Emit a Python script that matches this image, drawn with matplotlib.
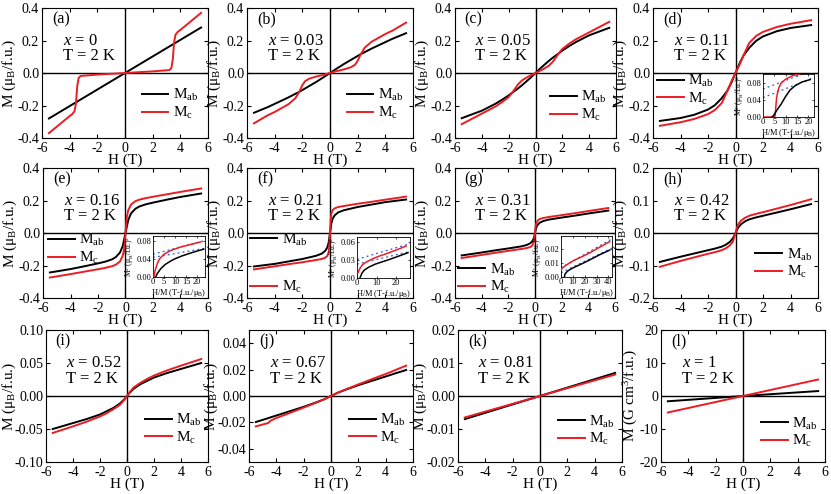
import matplotlib
matplotlib.use('Agg')
import matplotlib.pyplot as plt

plt.rcParams['font.family'] = 'Liberation Serif'
plt.rcParams['mathtext.fontset'] = 'custom'
plt.rcParams['mathtext.rm'] = 'Liberation Serif'
plt.rcParams['mathtext.it'] = 'Liberation Serif:italic'
plt.rcParams['mathtext.bf'] = 'Liberation Serif:bold'
plt.rcParams['axes.unicode_minus'] = False

# ---- data: M(H) at T = 2 K ----
# (a) x = 0
h_a_ab = [-5.5, 0, 5.5]
m_a_ab = [-0.28, 0, 0.28]
h_a_c = [-5.5, -5.0, -4.5, -4.0, -3.8, -3.65, -3.55, -3.45, -3.35, -3.2, -2.0, 0.0,
         2.0, 3.2, 3.35, 3.45, 3.55, 3.65, 3.8, 4.0, 4.5, 5.0, 5.5]
m_a_c = [-0.37, -0.335, -0.30, -0.265, -0.252, -0.235, -0.19, -0.08, -0.03, -0.018, -0.01, 0.0,
         0.01, 0.018, 0.03, 0.08, 0.19, 0.235, 0.252, 0.265, 0.30, 0.335, 0.37]

# (b) x = 0.03
h_b = [-5.5, -4.5, -4, -3, -2.5, -2.2, -2, -1.8, -1.5, -1, -0.5, 0,
       0.5, 1, 1.5, 1.8, 2, 2.2, 2.5, 3, 4, 4.5, 5.5]
mab_b = [-0.245, -0.21, -0.19, -0.15, -0.128, -0.115, -0.105, -0.095, -0.08, -0.055, -0.028, 0,
         0.028, 0.055, 0.08, 0.095, 0.105, 0.115, 0.128, 0.15, 0.19, 0.21, 0.245]
mc_b = [-0.31, -0.26, -0.24, -0.192, -0.155, -0.112, -0.075, -0.05, -0.035, -0.022, -0.012, 0,
        0.012, 0.022, 0.035, 0.05, 0.075, 0.112, 0.155, 0.192, 0.24, 0.26, 0.31]

# (c) x = 0.05
h_c = [-5.5, -4, -3, -2.5, -2, -1.8, -1.6, -1.3, -1, -0.6, -0.3, 0,
       0.3, 0.6, 1, 1.3, 1.6, 1.8, 2, 2.5, 3, 4, 5.5]
mab_c = [-0.278, -0.232, -0.19, -0.165, -0.138, -0.125, -0.113, -0.095, -0.075, -0.046, -0.024, 0,
         0.024, 0.046, 0.075, 0.095, 0.113, 0.125, 0.138, 0.165, 0.19, 0.232, 0.278]
mc_c = [-0.315, -0.25, -0.207, -0.18, -0.148, -0.128, -0.105, -0.07, -0.045, -0.025, -0.012, 0,
        0.012, 0.025, 0.045, 0.07, 0.105, 0.128, 0.148, 0.18, 0.207, 0.25, 0.315]

# (d) x = 0.11
h_d = [-5.5, -4, -3, -2, -1.5, -1, -0.6, -0.3, 0, 0.3, 0.6, 1, 1.5, 2, 3, 4, 5.5]
mab_d = [-0.295, -0.277, -0.257, -0.225, -0.198, -0.155, -0.11, -0.06, 0,
         0.06, 0.11, 0.155, 0.198, 0.225, 0.257, 0.277, 0.295]
mc_d = [-0.325, -0.303, -0.283, -0.253, -0.228, -0.185, -0.112, -0.052, 0,
        0.052, 0.112, 0.185, 0.228, 0.253, 0.283, 0.303, 0.325]

# (e) x = 0.16
h_e = [-5.5, -4, -3, -2, -1.5, -1, -0.7, -0.4, -0.2, -0.1, -0.05, 0,
       0.05, 0.1, 0.2, 0.4, 0.7, 1, 1.5, 2, 3, 4, 5.5]
mab_e = [-0.243, -0.222, -0.205, -0.187, -0.177, -0.163, -0.148, -0.12, -0.08, -0.04, -0.02, 0,
         0.02, 0.04, 0.08, 0.12, 0.148, 0.163, 0.177, 0.187, 0.205, 0.222, 0.243]
mc_e = [-0.274, -0.253, -0.238, -0.223, -0.215, -0.205, -0.195, -0.175, -0.14, -0.1, -0.05, 0,
        0.05, 0.1, 0.14, 0.175, 0.195, 0.205, 0.215, 0.223, 0.238, 0.253, 0.274]

# (f) x = 0.21
h_f = [-5.5, -4, -3, -2, -1, -0.6, -0.35, -0.2, -0.1, -0.05, 0,
       0.05, 0.1, 0.2, 0.35, 0.6, 1, 2, 3, 4, 5.5]
mab_f = [-0.206, -0.19, -0.175, -0.16, -0.14, -0.127, -0.11, -0.09, -0.06, -0.03, 0,
         0.03, 0.06, 0.09, 0.11, 0.127, 0.14, 0.16, 0.175, 0.19, 0.206]
mc_f = [-0.224, -0.205, -0.192, -0.18, -0.166, -0.16, -0.152, -0.142, -0.12, -0.08, 0,
        0.08, 0.12, 0.142, 0.152, 0.16, 0.166, 0.18, 0.192, 0.205, 0.224]

# (g) x = 0.31
h_g = [-5.5, -4, -3, -2, -1, -0.6, -0.35, -0.2, -0.1, -0.05, 0,
       0.05, 0.1, 0.2, 0.35, 0.6, 1, 2, 3, 4, 5.5]
mab_g = [-0.138, -0.12, -0.107, -0.095, -0.082, -0.073, -0.063, -0.05, -0.035, -0.02, 0,
         0.02, 0.035, 0.05, 0.063, 0.073, 0.082, 0.095, 0.107, 0.12, 0.138]
mc_g = [-0.154, -0.135, -0.122, -0.11, -0.098, -0.092, -0.086, -0.077, -0.06, -0.04, 0,
        0.04, 0.06, 0.077, 0.086, 0.092, 0.098, 0.11, 0.122, 0.135, 0.154]

# (h) x = 0.42
h_h = [-5.5, -4, -3, -2, -1.5, -1, -0.7, -0.4, -0.2, -0.1, 0,
       0.1, 0.2, 0.4, 0.7, 1, 1.5, 2, 3, 4, 5.5]
mab_h = [-0.089, -0.073, -0.063, -0.053, -0.048, -0.042, -0.036, -0.027, -0.017, -0.009, 0,
         0.009, 0.017, 0.027, 0.036, 0.042, 0.048, 0.053, 0.063, 0.073, 0.089]
mc_h = [-0.104, -0.086, -0.075, -0.064, -0.059, -0.053, -0.047, -0.038, -0.027, -0.015, 0,
        0.015, 0.027, 0.038, 0.047, 0.053, 0.059, 0.064, 0.075, 0.086, 0.104]

# (i) x = 0.52
h_i = [-5.5, -4, -3, -2, -1.5, -1, -0.5, -0.2, 0, 0.2, 0.5, 1, 1.5, 2, 3, 4, 5.5]
mab_i = [-0.05, -0.041, -0.035, -0.028, -0.023, -0.018, -0.011, -0.005, 0,
         0.005, 0.011, 0.018, 0.023, 0.028, 0.035, 0.041, 0.05]
mc_i = [-0.056, -0.046, -0.039, -0.031, -0.026, -0.02, -0.013, -0.006, 0,
        0.006, 0.013, 0.02, 0.026, 0.031, 0.039, 0.046, 0.056]

# (j) x = 0.67
h_j = [-5.5, -4.6, -4.4, -4, -3, -2, -1, -0.5, 0, 0.5, 1, 2, 3, 4, 4.4, 4.6, 5.5]
mab_j = [-0.0197, -0.0168, -0.0161, -0.0148, -0.0115, -0.0082, -0.0045, -0.0025, 0,
         0.0025, 0.0045, 0.0082, 0.0115, 0.0148, 0.0161, 0.0168, 0.0197]
mc_j = [-0.023, -0.0205, -0.0186, -0.0167, -0.0128, -0.0088, -0.0047, -0.0025, 0,
        0.0025, 0.0047, 0.0088, 0.0128, 0.0167, 0.0183, 0.0192, 0.023]

# (k) x = 0.81
h_k = [-5.5, 0, 5.5]
mab_k = [-0.007, 0, 0.007]
mc_k = [-0.0065, 0, 0.0065]

# (l) x = 1  (G cm^3/f.u.)
h_l = [-5.5, 0, 5.5]
mab_l = [-1.6, 0, 1.5]
mc_l = [-5.0, 0, 5.0]

# ---- inset data: M^2 vs H/M (Arrott plots) ----
hm_d_c = [0, 4.5, 5.3, 5.6, 6.0, 6.5, 7.0, 8.0, 10, 13, 16, 20]
m2_d_c = [0, 0, 0.002, 0.02, 0.045, 0.058, 0.068, 0.079, 0.088, 0.096, 0.1, 0.106]
hm_d_ab = [4, 5, 6, 8, 10, 12, 14, 17, 20.8]
m2_d_ab = [0, 0.006, 0.015, 0.03, 0.048, 0.063, 0.072, 0.081, 0.087]
fit_d_x = [0, 22.5]
fit_d_c = [0.065, 0.11]
fit_d_ab = [0.045, 0.092]

hm_e_c = [0.4, 1, 2, 3, 5, 8, 12, 16, 21.6]
m2_e_c = [0, 0.015, 0.03, 0.04, 0.05, 0.058, 0.065, 0.07, 0.077]
hm_e_ab = [1.2, 2, 3.5, 5.4, 8, 10, 13, 16.7, 20, 23]
m2_e_ab = [0, 0.008, 0.018, 0.027, 0.035, 0.04, 0.046, 0.052, 0.057, 0.061]
fit_e_x = [0, 23.6]
fit_e_c = [0.05, 0.08]
fit_e_ab = [0.043, 0.063]

hm_f_c = [0.55, 1.5, 2.8, 5, 7.4, 11, 14.8, 18, 22, 25]
m2_f_c = [0.009, 0.016, 0.022, 0.027, 0.031, 0.036, 0.04, 0.044, 0.049, 0.053]
hm_f_ab = [1.5, 2.5, 3.7, 6, 9.3, 13, 16.7, 21, 26]
m2_f_ab = [0, 0.008, 0.013, 0.018, 0.023, 0.027, 0.031, 0.036, 0.042]
fit_f_x = [0, 27]
fit_f_c = [0.031, 0.057]
fit_f_ab = [0.023, 0.044]

hm_g_c = [0, 1, 3.7, 7, 11.5, 18, 24, 32, 41]
m2_g_c = [0.005, 0.0062, 0.008, 0.0098, 0.012, 0.0145, 0.017, 0.0208, 0.025]
hm_g_ab = [2.8, 3.5, 5.3, 8, 11.5, 18, 24, 32, 41]
m2_g_ab = [0, 0.0022, 0.004, 0.0055, 0.007, 0.0095, 0.012, 0.0155, 0.019]
fit_g_x = [0, 43]
fit_g_c = [0.0065, 0.027]
fit_g_ab = [0.003, 0.0205]

FW, FH = 831, 494
fig = plt.figure(figsize=(FW / 100, FH / 100), dpi=100)


def box(x0, x1, y0, y1):
    # pixel box -> figure fraction rect
    return [x0 / FW, 1 - y1 / FH, (x1 - x0) / FW, (y1 - y0) / FH]


def panel(rect, h_ab, m_ab, h_c, m_c, tag, xval, ylim, yticks, yfmt,
          leg, ylabel='M (μ$_\\mathrm{B}$/f.u.)', split=None, ypad=-0.5):
    ax = fig.add_axes(rect)
    ax.axhline(0, color='black', lw=1.0, zorder=1)
    ax.axvline(0, color='black', lw=1.0, zorder=1)
    l1, = ax.plot(h_ab, m_ab, color='black', lw=1.4, label='M$_\\mathrm{ab}$', zorder=3)
    l2, = ax.plot(h_c, m_c, color='#ec1c24', lw=1.4, label='M$_\\mathrm{c}$', zorder=3)
    ax.set_xlim(-6, 6)
    ax.set_ylim(*ylim)
    ax.set_xticks([-6, -4, -2, 0, 2, 4, 6])
    ax.set_yticks(yticks)
    ax.set_yticklabels([yfmt % v for v in yticks])
    ax.tick_params(direction='in', top=True, right=True, length=3, width=0.8,
                   labelsize=10, pad=2)
    ax.tick_params(axis='x', pad=3)
    for s in ax.spines.values():
        s.set_linewidth(0.8)
    ax.set_xlabel('H (T)', fontsize=11, labelpad=-1)
    ax.set_ylabel(ylabel, fontsize=11, labelpad=ypad)
    ax.text(0.06, 0.915, tag, transform=ax.transAxes, fontsize=11.5, va='center')
    ax.text(0.125, 0.69, '$x$ = ' + xval + '\nT = 2 K', transform=ax.transAxes,
            fontsize=12, va='center', linespacing=0.95)
    kw = dict(frameon=False, fontsize=11, handlelength=1.75, handletextpad=0.3,
              labelspacing=0.1, borderpad=0, borderaxespad=0, loc='center left')
    if split is None:
        ax.legend(handles=[l1, l2], bbox_to_anchor=leg, **kw)
    else:
        lg = ax.legend(handles=[l1], bbox_to_anchor=leg, **kw)
        ax.add_artist(lg)
        ax.legend(handles=[l2], bbox_to_anchor=split, **kw)
    return ax


def inset(rect, hc, mc, hab, mab, fx, fc, fab, xlim, ylim, xt, yt, yfmt):
    ax = fig.add_axes(rect)
    ax.set_facecolor('white')
    ax.plot(fx, fc, color='#2a5bd7', lw=0.9, ls=(0, (1.5, 2.5)), zorder=2)
    ax.plot(fx, fab, color='#2a5bd7', lw=0.9, ls=(0, (1.5, 2.5)), zorder=2)
    ax.plot(hc, mc, color='#ec1c24', lw=1.1, zorder=3)
    ax.plot(hab, mab, color='black', lw=1.1, zorder=3)
    ax.set_xlim(*xlim)
    ax.set_ylim(*ylim)
    ax.set_xticks(xt)
    ax.set_yticks(yt)
    ax.set_yticklabels([yfmt % v for v in yt])
    ax.tick_params(direction='in', top=True, right=True, length=1.5, width=0.5,
                   labelsize=6, pad=1)
    for s in ax.spines.values():
        s.set_linewidth(0.6)
    ax.set_xlabel('H/M (T-f.u./μ$_\\mathrm{B}$)', fontsize=6, labelpad=0.5)
    ax.set_ylabel('M$^2$ (μ$_\\mathrm{B}$/f.u.)$^2$', fontsize=5.5, labelpad=0.5)
    return ax


yt4 = [-0.4, -0.2, 0.0, 0.2, 0.4]
lo = (0.6, 0.26)

panel(box(42, 208, 8, 138), h_a_ab, m_a_ab, h_a_c, m_a_c, '(a)', '0',
      (-0.4, 0.4), yt4, '%.1f', lo)
panel(box(247, 413, 8, 138), h_b, mab_b, h_b, mc_b, '(b)', '0.03',
      (-0.4, 0.4), yt4, '%.1f', lo)
panel(box(455, 616, 8, 138), h_c, mab_c, h_c, mc_c, '(c)', '0.05',
      (-0.4, 0.4), yt4, '%.1f', (0.59, 0.245))
panel(box(653, 818, 8, 138), h_d, mab_d, h_d, mc_d, '(d)', '0.11',
      (-0.4, 0.4), yt4, '%.1f', (0.025, 0.37))

panel(box(43, 208, 168, 298), h_e, mab_e, h_e, mc_e, '(e)', '0.16',
      (-0.4, 0.4), yt4, '%.1f', (0.03, 0.375))
panel(box(247, 413, 168, 298), h_f, mab_f, h_f, mc_f, '(f)', '0.21',
      (-0.4, 0.4), yt4, '%.1f', (0.02, 0.45), split=(0.02, 0.085))
panel(box(455, 615, 168, 298), h_g, mab_g, h_g, mc_g, '(g)', '0.31',
      (-0.4, 0.4), yt4, '%.1f', (0.02, 0.15))
panel(box(653, 818, 168, 298), h_h, mab_h, h_h, mc_h, '(h)', '0.42',
      (-0.2, 0.2), [-0.2, -0.1, 0.0, 0.1, 0.2], '%.1f', (0.62, 0.265))

panel(box(46, 208, 330, 462), h_i, mab_i, h_i, mc_i, '(i)', '0.52',
      (-0.1, 0.1), [-0.10, -0.05, 0.00, 0.05, 0.10], '%.2f', (0.61, 0.25), ypad=-2.5)
panel(box(249, 413, 330, 462), h_j, mab_j, h_j, mc_j, '(j)', '0.67',
      (-0.05, 0.05), [-0.04, -0.02, 0.00, 0.02, 0.04], '%.2f', (0.61, 0.25), ypad=-1.5)
panel(box(458, 622, 330, 462), h_k, mab_k, h_k, mc_k, '(k)', '0.81',
      (-0.02, 0.02), [-0.02, -0.01, 0.00, 0.01, 0.02], '%.2f', (0.61, 0.24), ypad=-1.5)
panel(box(661, 825, 330, 462), h_l, mab_l, h_l, mc_l, '(l)', '1',
      (-20, 20), [-20, -10, 0, 10, 20], '%d', (0.61, 0.225),
      ylabel='M (G cm$^3$/f.u.)')

inset(box(763, 814, 74, 117), hm_d_c, m2_d_c, hm_d_ab, m2_d_ab, fit_d_x, fit_d_c, fit_d_ab,
      (0, 22.5), (0, 0.1), [0, 5, 10, 15, 20], [0.0, 0.04, 0.08], '%.2f')
inset(box(153, 205, 236, 277), hm_e_c, m2_e_c, hm_e_ab, m2_e_ab, fit_e_x, fit_e_c, fit_e_ab,
      (0, 23.6), (0, 0.09), [0, 5, 10, 15, 20], [0.0, 0.04, 0.08], '%.2f')
inset(box(357, 410, 237, 278), hm_f_c, m2_f_c, hm_f_ab, m2_f_ab, fit_f_x, fit_f_c, fit_f_ab,
      (0, 27), (0, 0.068), [0, 10, 20], [0.0, 0.03, 0.06], '%.2f')
inset(box(561, 612, 236, 277), hm_g_c, m2_g_c, hm_g_ab, m2_g_ab, fit_g_x, fit_g_c, fit_g_ab,
      (0, 43), (0, 0.029), [0, 10, 20, 30, 40], [0.0, 0.01, 0.02], '%.2f')

fig.savefig('out.png', dpi=100)
